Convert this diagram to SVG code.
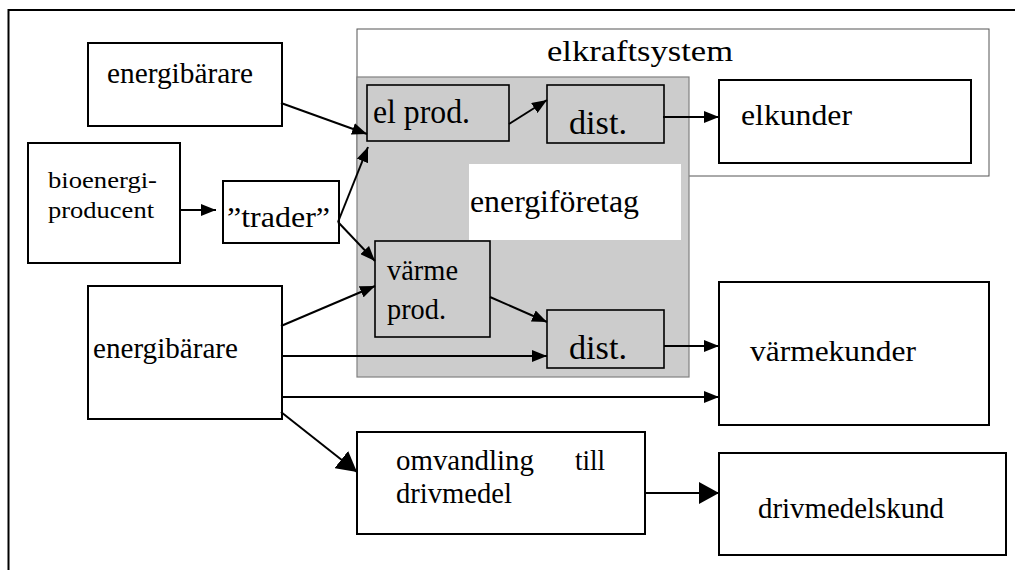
<svg xmlns="http://www.w3.org/2000/svg" width="1015" height="570" viewBox="0 0 1015 570" font-family="'Liberation Serif', 'Times New Roman', serif">
<defs>
<style>
text{font-family:"Liberation Serif","Times New Roman",serif;fill:#000}
.box{fill:#fff;stroke:#000;stroke-width:2}
.inbox{fill:none;stroke:#000;stroke-width:1.6}
.con{fill:none;stroke:#000;stroke-width:2}
.f29{font-size:29px;font-family:"Liberation Serif","Times New Roman",serif}
</style>
<marker id="ah" markerUnits="userSpaceOnUse" markerWidth="15" markerHeight="12" refX="15" refY="6" orient="auto"><path d="M0,0 L15,6 L0,12 z" fill="#000"/></marker>
<marker id="ahL" markerUnits="userSpaceOnUse" markerWidth="20" markerHeight="22" refX="20" refY="11" orient="auto"><path d="M0,0 L20,11 L0,22 z" fill="#000"/></marker>
</defs>
<rect width="1015" height="570" fill="#fff"/>
<path d="M8.5,570 V10 H1015" fill="none" stroke="#000" stroke-width="2"/>

<g id="elkraftsystem">
<rect x="357" y="29" width="632" height="147" fill="#fff" stroke="#555" stroke-width="1"/>
<text x="547" y="61" font-size="30" textLength="186" lengthAdjust="spacingAndGlyphs">elkraftsystem</text>
</g>
<g id="energiforetag">
<rect x="357" y="77" width="332" height="300" fill="#cccccc" stroke="#808080" stroke-width="1.2"/>
<rect x="469" y="164" width="212" height="76" fill="#fff"/>
<text x="470" y="212" font-size="31" textLength="169" lengthAdjust="spacingAndGlyphs">energiföretag</text>
</g>
<g id="energibarare1">
<rect class="box" x="88" y="43" width="194" height="83"/>
<text class="f29" x="107" y="83" textLength="146" lengthAdjust="spacingAndGlyphs">energibärare</text>
</g>
<g id="bioenergi">
<rect class="box" x="28" y="143" width="152" height="120"/>
<text x="48" y="188" font-size="23" textLength="109" lengthAdjust="spacingAndGlyphs">bioenergi-</text>
<text x="48" y="218" font-size="23" textLength="106" lengthAdjust="spacingAndGlyphs">producent</text>
</g>
<g id="trader">
<rect class="box" x="223" y="181" width="116" height="62"/>
<text class="f29" x="227" y="227" textLength="103" lengthAdjust="spacingAndGlyphs">”trader”</text>
</g>
<g id="elprod">
<rect class="inbox" x="367" y="85" width="142" height="56"/>
<text x="373" y="123" font-size="34" textLength="97" lengthAdjust="spacingAndGlyphs">el prod.</text>
</g>
<g id="dist1">
<rect class="inbox" x="547" y="85" width="117" height="58"/>
<text x="569" y="134" font-size="33" textLength="58" lengthAdjust="spacingAndGlyphs">dist.</text>
</g>
<g id="elkunder">
<rect class="box" x="719" y="80" width="252" height="83"/>
<text class="f29" x="741" y="125" textLength="111" lengthAdjust="spacingAndGlyphs">elkunder</text>
</g>
<g id="varmeprod">
<rect class="inbox" x="375" y="241" width="115" height="96"/>
<text class="f29" x="387" y="280" textLength="71" lengthAdjust="spacingAndGlyphs">värme</text>
<text class="f29" x="387" y="319" textLength="59" lengthAdjust="spacingAndGlyphs">prod.</text>
</g>
<g id="dist2">
<rect class="inbox" x="547" y="310" width="117" height="58"/>
<text x="569" y="359" font-size="33" textLength="58" lengthAdjust="spacingAndGlyphs">dist.</text>
</g>
<g id="energibarare2">
<rect class="box" x="88" y="286" width="194" height="133"/>
<text class="f29" x="93" y="358" textLength="145" lengthAdjust="spacingAndGlyphs">energibärare</text>
</g>
<g id="varmekunder">
<rect class="box" x="719" y="282" width="270" height="143"/>
<text class="f29" x="750" y="361" textLength="166" lengthAdjust="spacingAndGlyphs">värmekunder</text>
</g>
<g id="omvandling">
<rect class="box" x="357" y="432" width="288" height="102"/>
<text class="f29" x="396" y="470" textLength="138" lengthAdjust="spacingAndGlyphs">omvandling</text>
<text class="f29" x="575" y="470" textLength="30" lengthAdjust="spacingAndGlyphs">till</text>
<text class="f29" x="396" y="503" textLength="116" lengthAdjust="spacingAndGlyphs">drivmedel</text>
</g>
<g id="drivmedelskund">
<rect class="box" x="719" y="453" width="287" height="102"/>
<text class="f29" x="758" y="518" textLength="186" lengthAdjust="spacingAndGlyphs">drivmedelskund</text>
</g>

<g id="connectors">
<line class="con" x1="281" y1="103" x2="367" y2="134" marker-end="url(#ah)"/>
<line class="con" x1="180" y1="210" x2="216" y2="210" marker-end="url(#ah)"/>
<line class="con" x1="338" y1="222" x2="368" y2="147" marker-end="url(#ah)"/>
<line class="con" x1="338" y1="222" x2="375" y2="261" marker-end="url(#ah)"/>
<line class="con" x1="281" y1="326" x2="375" y2="286" marker-end="url(#ah)"/>
<line class="con" x1="281" y1="356" x2="547" y2="356" marker-end="url(#ah)"/>
<line class="con" x1="281" y1="397" x2="719" y2="397" marker-end="url(#ah)"/>
<line class="con" x1="281" y1="412" x2="357" y2="472" marker-end="url(#ahL)"/>
<line class="con" x1="509" y1="124" x2="547" y2="100" marker-end="url(#ah)"/>
<line class="con" x1="663" y1="117" x2="719" y2="117" marker-end="url(#ah)"/>
<line class="con" x1="490" y1="297" x2="547" y2="322" marker-end="url(#ah)"/>
<line class="con" x1="664" y1="346" x2="719" y2="346" marker-end="url(#ah)"/>
<line class="con" x1="645" y1="493" x2="719" y2="493" marker-end="url(#ahL)"/>
</g>
</svg>
